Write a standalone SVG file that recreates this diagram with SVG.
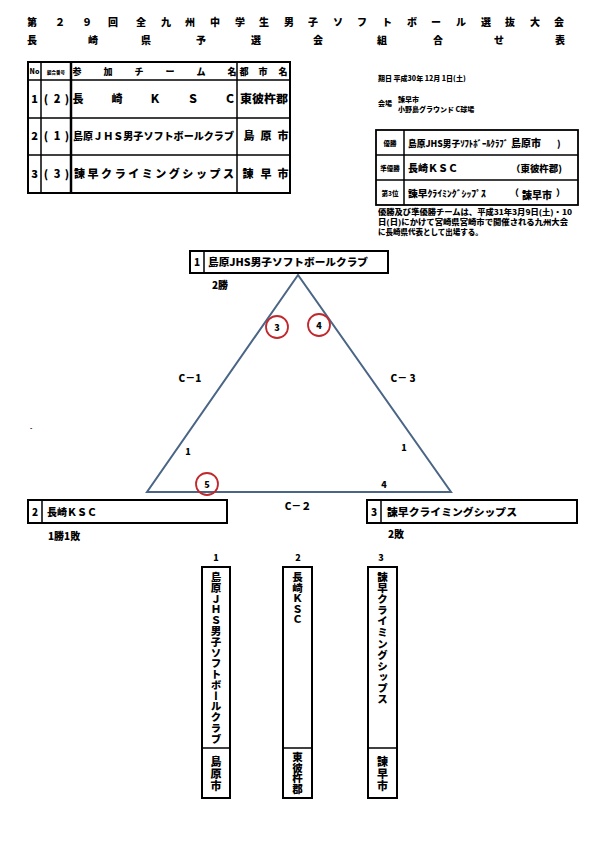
<svg xmlns="http://www.w3.org/2000/svg" width="595" height="842" viewBox="0 0 595 842">
<style>
text{font-family:"Noto Sans CJK JP","DejaVu Sans",sans-serif;font-weight:900;fill:#000}
.box{fill:none;stroke:#000;stroke-width:2}
.ln{stroke:#000;stroke-width:1.5;fill:none}
.t11{font-size:11px}
.t10{font-size:10px}
.t9{font-size:9px}
.t7{font-size:7px}
.c{text-anchor:middle}
.tri{fill:none;stroke:#4a6585;stroke-width:2}
.mc{fill:none;stroke:#c0282d;stroke-width:1.8}
.v{writing-mode:vertical-rl;font-size:10.5px}
</style>
<rect width="595" height="842" fill="#fff"/>
<g id="title" class="t10">
<text class="c" x="32 60 87 113 141 166 190 215 240 264 289 313 338 362 387 412 436 461 486 510 535 559" y="26">第２９回全九州中学生男子ソフトボール選抜大会</text>
<text class="c" x="32 93 146 201 256 318 382 438 499 560" y="44">長崎県予選会組合せ表</text>
</g>
<g id="table">
<rect class="box" x="28" y="62" width="262" height="131"/>
<line class="ln" x1="28" y1="80" x2="290" y2="80"/>
<line class="ln" x1="28" y1="118" x2="290" y2="118"/>
<line class="ln" x1="28" y1="155" x2="290" y2="155"/>
<line class="ln" x1="41" y1="62" x2="41" y2="193"/>
<line x1="71" y1="62" x2="71" y2="193" stroke="#000" stroke-width="2.5"/>
<line class="ln" x1="237" y1="62" x2="237" y2="193"/>
<text class="c" x="34.5" y="74" font-size="7">No</text>
<text class="c" x="56" y="74" font-size="4.5">組合番号</text>
<text class="c t9" x="77 108 139 170 201 232" y="75">参加チーム名</text>
<text class="c t9" x="244 263 283" y="75">都市名</text>
<text class="c t11" x="34.5" y="103">1</text>
<text class="c t11" x="46 57 67" y="103">(2)</text>
<text class="c t11" x="78 117 155 193 230" y="103">長崎ＫＳＣ</text>
<text class="t11" x="240" y="103" textLength="48" lengthAdjust="spacingAndGlyphs">東彼杵郡</text>
<text class="c t11" x="34.5" y="140">2</text>
<text class="c t11" x="46 57 67" y="140">(1)</text>
<text x="73" y="140" font-size="10" textLength="161" lengthAdjust="spacingAndGlyphs" style="font-size:10px;transform-box:fill-box">島原ＪＨＳ男子ソフトボールクラブ</text>
<text class="c t11" x="249 266 283" y="140">島原市</text>
<text class="c t11" x="34.5" y="178">3</text>
<text class="c t11" x="46 57 67" y="178">(3)</text>
<text class="t11" x="74" y="178" textLength="160" lengthAdjust="spacing">諫早クライミングシップス</text>
<text class="c t11" x="248 266 283" y="178">諫早市</text>
</g>
<g id="info" class="t7">
<text x="378" y="81">期日 平成30年 12月 1日(土)</text>
<text x="378" y="106">会場</text>
<text x="398" y="102">諫早市</text>
<text x="398" y="112">小野島グラウンド C球場</text>
</g>
<g id="results">
<rect x="376" y="130" width="202" height="75" fill="none" stroke="#000" stroke-width="1.8"/>
<line class="ln" x1="376" y1="155" x2="578" y2="155"/>
<line class="ln" x1="376" y1="180" x2="578" y2="180"/>
<line class="ln" x1="404" y1="130" x2="404" y2="205"/>
<text class="c" x="390" y="146" font-size="6.5">優勝</text>
<text class="c" x="390" y="171" font-size="6.5">準優勝</text>
<text class="c" x="390" y="196" font-size="6.5">第3位</text>
<text class="t9" x="408" y="147" textLength="100" lengthAdjust="spacingAndGlyphs">島原JHS男子ｿﾌﾄﾎﾞｰﾙｸﾗﾌﾞ</text>
<text class="t10" x="511" y="147">島原市</text>
<text class="t9" x="557" y="147">)</text>
<text class="t10" x="408" y="172">長崎ＫＳＣ</text>
<text class="t9" x="511" y="172" textLength="51" lengthAdjust="spacingAndGlyphs">（東彼杵郡)</text>
<text class="t9" x="408" y="197" textLength="78" lengthAdjust="spacingAndGlyphs">諫早ｸﾗｲﾐﾝｸﾞｼｯﾌﾟｽ</text>
<text class="t9" x="510" y="196">（</text>
<text class="t10" x="522" y="199">諫早市</text>
<text class="t9" x="556" y="196">）</text>
</g>
<g id="note" font-size="7.5">
<text x="378" y="215" textLength="194" lengthAdjust="spacingAndGlyphs">優勝及び準優勝チームは、平成31年3月9日(土)・10</text>
<text x="378" y="225" textLength="190" lengthAdjust="spacingAndGlyphs">日(日)にかけて宮崎県宮崎市で開催される九州大会</text>
<text x="378" y="235">に長崎県代表として出場する。</text>
</g>
<g id="connectors">
<polygon class="tri" points="298,275 147,492 451,492"/>
</g>
<g id="node1">
<rect class="box" x="190" y="251" width="198" height="22"/>
<line class="ln" x1="204" y1="251" x2="204" y2="273"/>
<text class="c t10" x="197" y="266">1</text>
<text class="t10" x="208" y="266" textLength="160" lengthAdjust="spacingAndGlyphs">島原JHS男子ソフトボールクラブ</text>
<text class="t10" x="212" y="289">2勝</text>
</g>
<g id="node2">
<rect class="box" x="28" y="500" width="199" height="23"/>
<line class="ln" x1="42" y1="500" x2="42" y2="523"/>
<text class="c t10" x="35" y="516">2</text>
<text class="t10" x="47" y="516">長崎ＫＳＣ</text>
<text class="t10" x="48" y="540">1勝1敗</text>
</g>
<g id="node3">
<rect class="box" x="367" y="500" width="210" height="23"/>
<line class="ln" x1="381" y1="500" x2="381" y2="523"/>
<text class="c t10" x="374" y="516">3</text>
<text class="t10" x="387" y="516" textLength="130" lengthAdjust="spacingAndGlyphs">諫早クライミングシップス</text>
<text class="t10" x="388" y="538">2敗</text>
</g>
<g id="matches">
<circle class="mc" cx="277" cy="327" r="11"/>
<text class="c t9" x="277" y="330.5">3</text>
<circle class="mc" cx="319" cy="325" r="11"/>
<text class="c t9" x="319" y="328.5">4</text>
<circle class="mc" cx="207" cy="484" r="11"/>
<text class="c t9" x="207" y="487.5">5</text>
</g>
<g id="labels" class="t10">
<text class="c" x="190" y="382">C－1</text>
<text class="c" x="403" y="382">C－ 3</text>
<text class="c" x="298" y="510">C－２</text>
<text class="c t9" x="188" y="455">1</text>
<text class="c t9" x="404" y="451">1</text>
<text class="c t9" x="384" y="488">4</text>
<text x="30" y="430" font-size="6">-</text>
</g>
<g id="columns">
<text class="c t9" x="216" y="561">1</text>
<text class="c t9" x="298" y="561">2</text>
<text class="c t9" x="381" y="561">3</text>
<rect class="box" x="202" y="567" width="28" height="231"/>
<line class="ln" x1="202" y1="748" x2="230" y2="748"/>
<rect class="box" x="283" y="567" width="29" height="231"/>
<line class="ln" x1="283" y1="748" x2="312" y2="748"/>
<rect class="box" x="368" y="567" width="29" height="231"/>
<line class="ln" x1="368" y1="748" x2="397" y2="748"/>
<text class="v" x="216" y="572" textLength="172" lengthAdjust="spacing">島原ＪＨＳ男子ソフトボールクラブ</text>
<text class="v" x="216" y="756" style="font-size:11px;letter-spacing:1px">島原市</text>
<text class="v" x="297.5" y="572">長崎ＫＳＣ</text>
<text class="v" x="297.5" y="752" style="font-size:10.5px">東彼杵郡</text>
<text class="v" x="382.5" y="572" textLength="132" lengthAdjust="spacing">諫早クライミングシップス</text>
<text class="v" x="382.5" y="756" style="font-size:11px;letter-spacing:1px">諫早市</text>
</g>
</svg>
